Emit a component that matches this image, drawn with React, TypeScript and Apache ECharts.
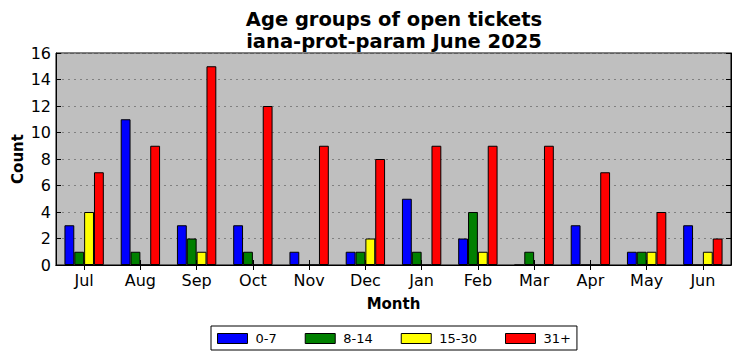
import React, { useEffect, useRef } from "react";
import * as echarts from "echarts";

const months = ["Jul", "Aug", "Sep", "Oct", "Nov", "Dec", "Jan", "Feb", "Mar", "Apr", "May", "Jun"];
const seriesNames = ["0-7", "8-14", "15-30", "31+"];
const age0to7 = [3, 11, 3, 3, 1, 1, 5, 2, 0, 3, 1, 3];
const age8to14 = [1, 1, 2, 1, 0, 1, 1, 4, 1, 0, 1, 0];
const age15to30 = [4, 0, 1, 0, 0, 2, 0, 1, 0, 0, 1, 1];
const age31plus = [7, 9, 15, 12, 9, 8, 9, 9, 9, 7, 4, 2];
const colors = ["#0000ff", "#008000", "#ffff00", "#ff0000"];
const titleLines = ["Age groups of open tickets", "iana-prot-param June 2025"];

const FONT = "DejaVu Sans";

export default function App() {
  const ref = useRef<HTMLDivElement>(null);
  useEffect(() => {
    if (!ref.current) return;
    const chart = echarts.init(ref.current, null, { renderer: "svg" });
    const data = [age0to7, age8to14, age15to30, age31plus];
    const tickCommon = { show: true, inside: true, length: 5, lineStyle: { color: "#000", width: 1 } };
    chart.setOption({
      animation: false,
      backgroundColor: "#ffffff",
      textStyle: { fontFamily: FONT },
      graphic: [
        {
          type: "text",
          x: 394,
          y: 8,
          style: {
            text: titleLines.join("\n"),
            align: "center",
            verticalAlign: "top",
            fontFamily: FONT,
            fontWeight: "bold",
            fontSize: 19.5,
            lineHeight: 22,
            fill: "#000",
          },
        },
      ],
      grid: {
        left: 56,
        right: 10,
        top: 53,
        bottom: 96,
        outerBoundsMode: "none",
        containLabel: false,
        show: true,
        backgroundColor: "#bfbfbf",
        borderColor: "#000",
        borderWidth: 1,
      },
      legend: {
        data: seriesNames,
        left: 211,
        top: 326,
        orient: "horizontal",
        padding: [6, 6, 5, 6],
        itemWidth: 30,
        itemHeight: 10,
        itemGap: 28,
        borderColor: "#000",
        borderWidth: 1,
        icon: "rect",
        itemStyle: { borderColor: "#000", borderWidth: 1 },
        textStyle: { fontFamily: FONT, fontSize: 13, color: "#000", padding: [0, 0, 0, 3] },
      },
      xAxis: [
        {
          type: "category",
          data: months,
          name: "Month",
          nameLocation: "middle",
          nameGap: 31,
          nameMoveOverlap: false,
          nameTextStyle: { fontFamily: FONT, fontWeight: "bold", fontSize: 15, color: "#000" },
          axisLine: { show: true, lineStyle: { color: "#000" } },
          axisTick: { ...tickCommon, alignWithLabel: true },
          axisLabel: { fontFamily: FONT, fontSize: 16, color: "#000", margin: 7 },
          splitLine: { show: false },
        },
        {
          type: "category",
          data: months,
          position: "top",
          axisLine: { show: true, lineStyle: { color: "#000" } },
          axisTick: { ...tickCommon, alignWithLabel: true },
          axisLabel: { show: false },
          splitLine: { show: false },
        },
      ],
      yAxis: [
        {
          type: "value",
          min: 0,
          max: 16,
          interval: 2,
          name: "Count",
          nameLocation: "middle",
          nameGap: 31,
          nameMoveOverlap: false,
          nameTextStyle: { fontFamily: FONT, fontWeight: "bold", fontSize: 15, color: "#000" },
          axisLine: { show: true, lineStyle: { color: "#000" } },
          axisTick: tickCommon,
          axisLabel: { fontFamily: FONT, fontSize: 16, color: "#000", margin: 5 },
          splitLine: { show: true, lineStyle: { type: [2, 4], color: "#808080", width: 1 } },
        },
        {
          type: "value",
          min: 0,
          max: 16,
          interval: 2,
          position: "right",
          axisLine: { show: true, lineStyle: { color: "#000" } },
          axisTick: tickCommon,
          axisLabel: { show: false },
          splitLine: { show: false },
        },
      ],
      series: seriesNames.map((name, i) => ({
        name,
        type: "bar",
        data: data[i],
        xAxisIndex: 0,
        yAxisIndex: 0,
        barGap: "0%",
        barCategoryGap: "30%",
        itemStyle: { color: colors[i], borderColor: "#000", borderWidth: 1 },
      })),
    });
    return () => chart.dispose();
  }, []);
  return (
    <div
      ref={ref}
      style={{ position: "fixed", left: 0, top: 0, width: 741, height: 361 }}
    />
  );
}
